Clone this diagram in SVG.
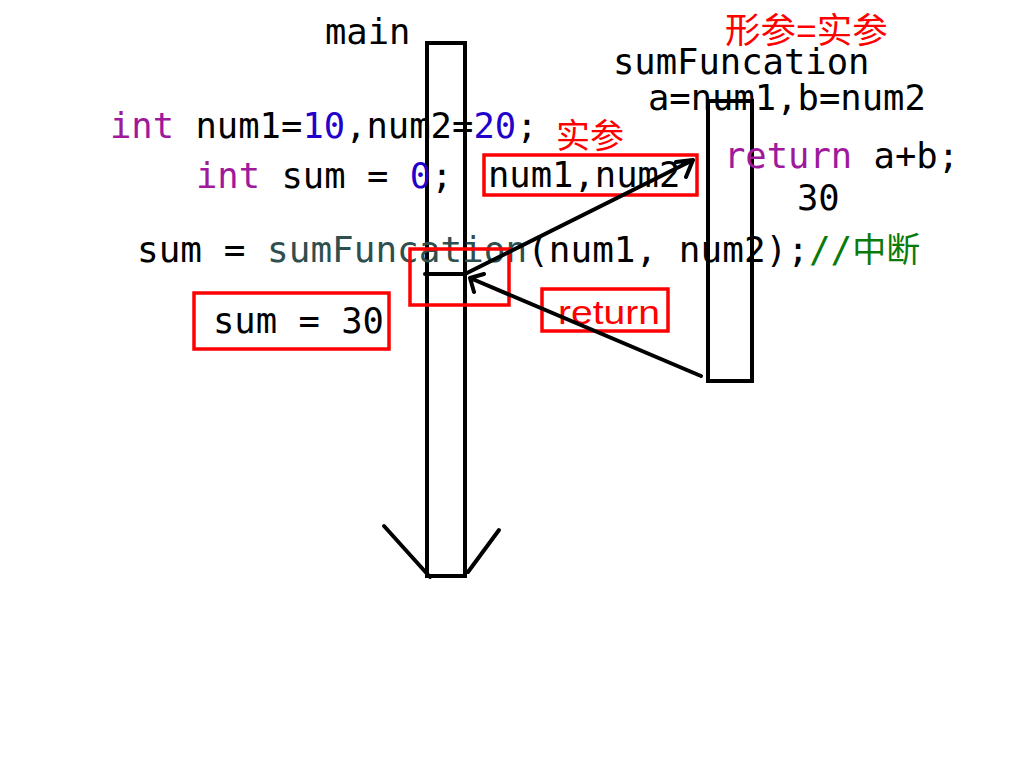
<svg xmlns="http://www.w3.org/2000/svg" width="1024" height="768" viewBox="0 0 1024 768">
<style>
.code{font-family:"DejaVu Sans Mono",monospace;font-size:35.5px;fill:#000}
.kw{fill:#a0189c}
.num{fill:#2200cc}
.fn{fill:#2f4f4f}
.cm{fill:#0a7a0a}
.cm2{font-family:"Noto Sans CJK SC",sans-serif;fill:#0a7a0a}
.red{font-family:"Liberation Sans","Noto Sans CJK SC",sans-serif;fill:#ff0000;font-size:34px}
.rbox{fill:none;stroke:#ff0000;stroke-width:3.5}
.bar{fill:none;stroke:#000;stroke-width:4}
.ln{fill:none;stroke:#000;stroke-width:4;stroke-linecap:round;stroke-linejoin:round}
</style>
<rect width="1024" height="768" fill="#fff"/>
<g id="main">
<text class="code" x="325" y="44">main</text>
<rect class="bar" x="427" y="43" width="38" height="533"/>
</g>
<g id="sumFuncation">
<text class="code" x="613" y="74">sumFuncation</text>
<text class="code" x="648" y="110">a=num1,b=num2</text>
<rect class="bar" x="708" y="101" width="44" height="280"/>
<text class="code" x="724" y="168"><tspan class="kw">return</tspan> a+b;</text>
<text class="code" x="797" y="210">30</text>
</g>
<g id="code-main">
<text class="code" x="110" y="138"><tspan class="kw">int</tspan> num1=<tspan class="num">10</tspan>,num2=<tspan class="num">20</tspan>;</text>
<text class="code" x="196" y="188"><tspan class="kw">int</tspan> sum = <tspan class="num">0</tspan>;</text>
<text class="code" x="137" y="262" style="font-size:36px">sum = <tspan class="fn">sumFuncation</tspan>(num1, num2);<tspan class="cm">//</tspan><tspan class="cm2" font-size="34px">中断</tspan></text>
</g>
<g id="args">
<rect class="rbox" x="484" y="155" width="213" height="40"/>
<text class="code" x="488" y="187">num1,num2</text>
<text class="red" x="556" y="148">实参</text>
</g>
<g id="result">
<rect class="rbox" x="194" y="293" width="195" height="56"/>
<text class="code" x="213" y="333">sum = 30</text>
</g>
<g id="call-point">
<rect class="rbox" x="410" y="249" width="99" height="56"/>
</g>
<g id="return-label">
<rect class="rbox" x="542" y="289" width="126" height="42"/>
<text class="red" x="558" y="324" font-size="36px" textLength="102" lengthAdjust="spacingAndGlyphs">return</text>
</g>
<g id="param-label">
<text class="red" x="725" y="43" style="font-size:35.5px">形参=实参</text>
</g>
<g id="connectors">
<line class="ln" x1="425" y1="274" x2="465" y2="274"/>
<path class="ln" d="M465 274 L693 160 M676 162 L693 160 L686 177"/>
<path class="ln" d="M701 376 L470 278 M484 274 L470 278 L474 292"/>
<path class="ln" d="M384 526 L430 577 M499 530 L468 572"/>
</g>
</svg>
